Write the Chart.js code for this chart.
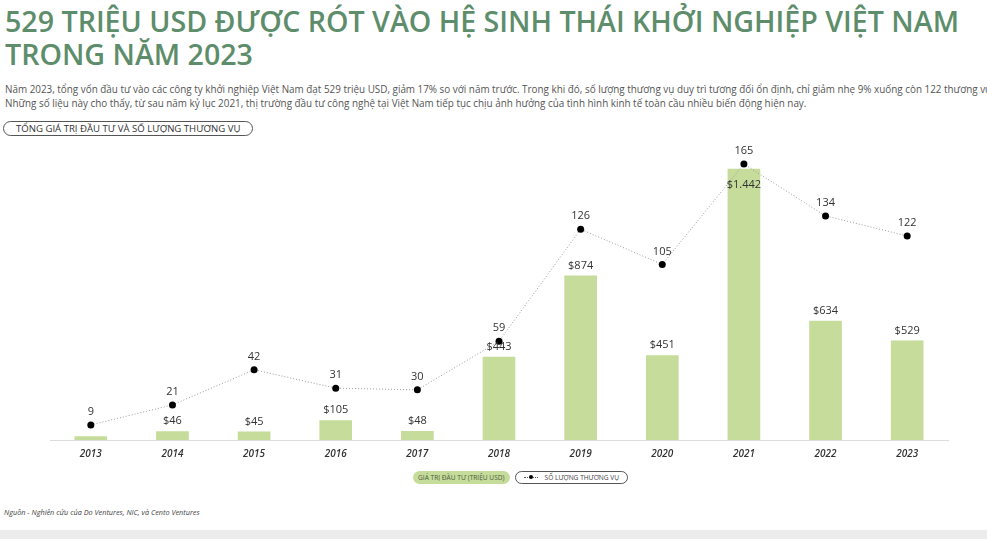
<!DOCTYPE html>
<html lang="vi">
<head>
<meta charset="utf-8">
<script src="https://cdn.jsdelivr.net/npm/chart.js@4.4.1/dist/chart.umd.min.js"></script>
<style>
  html, body { margin: 0; padding: 0; background: #fff; }
  body { width: 987px; height: 539px; position: relative; overflow: hidden; font-family: 'Open Sans', sans-serif; }
  .title { position: absolute; left: 5px; top: 4px; margin: 0; font-size: 28.6px; line-height: 33px; font-weight: 600; color: #5d8d6b; white-space: nowrap; }
  .lead { position: absolute; left: 5px; top: 82px; width: 982px; font-size: 9.9px; line-height: 14px; color: #555; white-space: nowrap; overflow: hidden; }
  .pill { position: absolute; left: 3px; top: 121px; height: 13px; padding: 0 12px; border: 1px solid #555; border-radius: 8px; font-size: 9.6px; line-height: 13px; color: #333; }
  .chart { position: absolute; left: 0; top: 140px; width: 987px; height: 320px; }
  .legend { position: absolute; top: 471px; left: 413px; display: flex; gap: 5px; font-size: 6.6px; color: #444; }
  .legend span { display: flex; align-items: center; height: 13px; border-radius: 7px; padding: 0 5px; }
  .legend .bar { background: #c5dc9a; color: #4d5b3e; }
  .legend .line { border: 1px solid #555; height: 11px; padding: 0 8px; }
  .legend i { display: inline-block; width: 14px; height: 1px; border-top: 1px dotted #555; position: relative; margin-right: 7px; }
  .legend i::after { content: ''; position: absolute; left: 5px; top: -3px; width: 4px; height: 4px; border-radius: 50%; background: #000; }
  .source { position: absolute; left: 4px; top: 507px; font-size: 7.3px; font-style: italic; color: #444; }
  .band { position: absolute; left: 0; top: 530px; width: 987px; height: 9px; background: #ececec; }
</style>
</head>
<body>
<h1 class="title">529 TRIỆU USD ĐƯỢC RÓT VÀO HỆ SINH THÁI KHỞI NGHIỆP VIỆT NAM<br>TRONG NĂM 2023</h1>
<div class="lead">Năm 2023, tổng vốn đầu tư vào các công ty khởi nghiệp Việt Nam đạt 529 triệu USD, giảm 17% so với năm trước. Trong khi đó, số lượng thương vụ duy trì tương đối ổn định, chỉ giảm nhẹ 9% xuống còn 122 thương vụ.<br>Những số liệu này cho thấy, từ sau năm kỷ lục 2021, thị trường đầu tư công nghệ tại Việt Nam tiếp tục chịu ảnh hưởng của tình hình kinh tế toàn cầu nhiều biến động hiện nay.</div>
<div class="pill">TỔNG GIÁ TRỊ ĐẦU TƯ VÀ SỐ LƯỢNG THƯƠNG VỤ</div>
<div class="chart"><canvas id="chart"></canvas></div>
<div class="legend">
  <span class="bar">GIÁ TRỊ ĐẦU TƯ (TRIỆU USD)</span>
  <span class="line"><i></i>SỐ LƯỢNG THƯƠNG VỤ</span>
</div>
<div class="source">Nguồn - Nghiên cứu của Do Ventures, NIC, và Cento Ventures</div>
<div class="band"></div>

<script>
const years = ['2013', '2014', '2015', '2016', '2017', '2018', '2019', '2020', '2021', '2022', '2023'];
const investment = [20, 46, 45, 105, 48, 443, 874, 451, 1442, 634, 529];
const deals = [9, 21, 42, 31, 30, 59, 126, 105, 165, 134, 122];

const formatUsd = v => '$' + v.toString().replace(/\B(?=(\d{3})+(?!\d))/g, '.');

// value labels above bars / points, bar label goes inside when a point sits on top of it
const valueLabels = {
  id: 'valueLabels',
  afterDatasetsDraw(chart) {
    const { ctx } = chart;
    const bars = chart.getDatasetMeta(1).data;
    const points = chart.getDatasetMeta(0).data;
    ctx.save();
    ctx.font = '11px "Open Sans"';
    ctx.fillStyle = '#333';
    ctx.textAlign = 'center';
    ctx.textBaseline = 'middle';
    bars.forEach((bar, i) => {
      if (i === 0) return;
      const inside = points[i].y > bar.y - 10;
      ctx.fillText(formatUsd(investment[i]), bar.x, inside ? bar.y + 16 : bar.y - 10);
    });
    points.forEach((pt, i) => {
      ctx.fillText(deals[i], pt.x, pt.y - 13);
    });
    ctx.restore();
  },
};

new Chart(document.getElementById('chart'), {
  data: {
    labels: years,
    datasets: [
      {
        type: 'line',
        label: 'SỐ LƯỢNG THƯƠNG VỤ',
        data: deals,
        yAxisID: 'y1',
        borderColor: '#9a9a9a',
        borderWidth: 1,
        borderDash: [1, 2],
        pointRadius: 3.5,
        pointBackgroundColor: '#000',
        pointBorderWidth: 0,
        tension: 0,
      },
      {
        type: 'bar',
        label: 'GIÁ TRỊ ĐẦU TƯ (TRIỆU USD)',
        data: investment,
        yAxisID: 'y',
        backgroundColor: '#c5dc9a',
        barPercentage: 0.4,
        categoryPercentage: 1,
      },
    ],
  },
  options: {
    responsive: true,
    maintainAspectRatio: false,
    animation: false,
    layout: { padding: { left: 50, right: 39, top: 10, bottom: 0 } },
    plugins: {
      legend: { display: false },
      tooltip: { enabled: false },
    },
    scales: {
      x: {
        grid: { display: false },
        border: { color: '#dcdcdc' },
        ticks: {
          color: '#333',
          padding: 0,
          font: { family: 'Open Sans', size: 10, style: 'italic', weight: '600' },
        },
      },
      y: { display: false, min: 0, max: 1541 },
      y1: { display: false, min: 0, max: 173.4 },
    },
  },
  plugins: [valueLabels],
});
</script>
</body>
</html>
